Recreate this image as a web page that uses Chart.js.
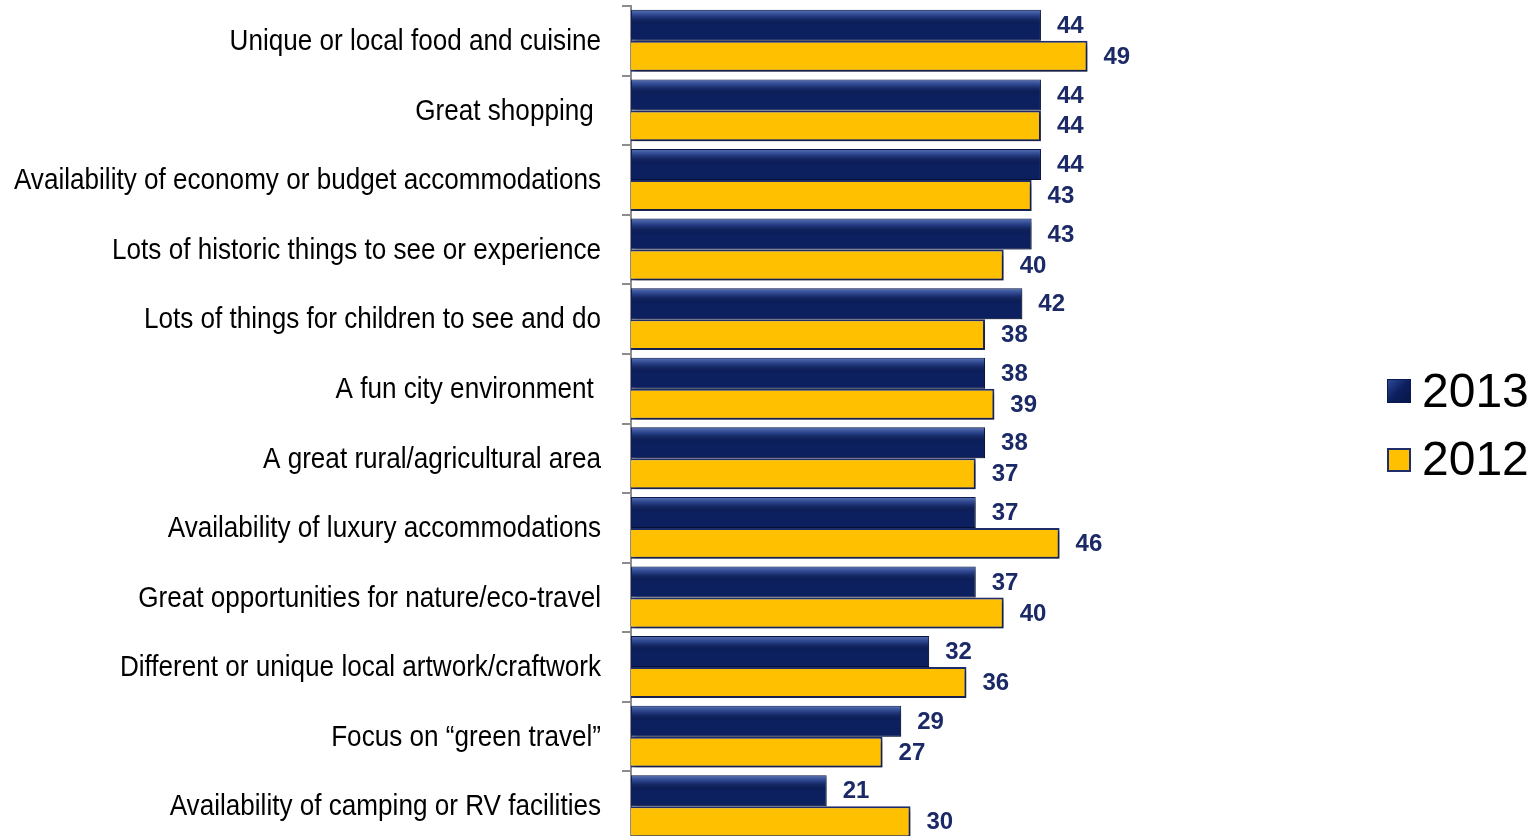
<!DOCTYPE html>
<html>
<head>
<meta charset="utf-8">
<script src="https://cdn.jsdelivr.net/npm/chart.js@4.4.0/dist/chart.umd.min.js"></script>
<style>
  html, body { margin: 0; padding: 0; background: #fff; overflow: hidden; }
  #wrap { position: relative; width: 1535px; height: 842px; }
  .lg-box { position: absolute; width: 22px; height: 22px; }
  .lg-txt { position: absolute; font: 48px "Liberation Sans", Arial, sans-serif; line-height: 48px; color: #000; }
</style>
</head>
<body>
<div id="wrap">
  <canvas id="myChart"></canvas>
  <div class="lg-box" style="left:1387px;top:379px;background:linear-gradient(135deg,#2c4a98 0%,#0c1f5e 50%,#081648 100%);border:1px solid #0a1a50;"></div>
  <div class="lg-txt" style="left:1422px;top:367px;">2013</div>
  <div class="lg-box" style="left:1387px;top:448px;background:#ffc000;border:2px solid #1f2d6b;width:20px;height:20px;"></div>
  <div class="lg-txt" style="left:1422px;top:435px;">2012</div>
</div>
<script>
var categories = [
    "Unique or local food and cuisine",
    "Great shopping ",
    "Availability of economy or budget accommodations",
    "Lots of historic things to see or experience",
    "Lots of things for children to see and do",
    "A fun city environment ",
    "A great rural/agricultural area",
    "Availability of luxury accommodations",
    "Great opportunities for nature/eco-travel",
    "Different or unique local artwork/craftwork",
    "Focus on \u201cgreen travel\u201d",
    "Availability of camping or RV facilities"
];
var values2013 = [44, 44, 44, 43, 42, 38, 38, 37, 37, 32, 29, 21];
var values2012 = [49, 44, 43, 40, 38, 39, 37, 46, 40, 36, 27, 30];
var seriesNames = ["2013", "2012"];

var navy = "#0c1f5e";
var gold = "#ffc000";
var labelColor = "#1b2a66";

// shadow under bars + glossy top on the navy bars + value labels
var barDeco = {
    id: "barDeco",
    beforeDatasetsDraw: function (chart) {
        var ctx = chart.ctx;
        ctx.save();
        ctx.shadowColor = "rgba(0,0,0,0.35)";
        ctx.shadowOffsetX = 3;
        ctx.shadowOffsetY = 3;
        ctx.shadowBlur = 4;
    },
    afterDatasetsDraw: function (chart) {
        var ctx = chart.ctx;
        ctx.restore();
        ctx.save();
        var meta0 = chart.getDatasetMeta(0);
        meta0.data.forEach(function (bar) {
            var p = bar.getProps(["x", "y", "base", "height"], true);
            var top = p.y - p.height / 2;
            var g = ctx.createLinearGradient(0, top, 0, top + p.height);
            g.addColorStop(0, "rgba(120,150,220,0.75)");
            g.addColorStop(0.2, "rgba(70,100,180,0.45)");
            g.addColorStop(0.5, "rgba(0,0,0,0)");
            g.addColorStop(1, "rgba(0,0,0,0)");
            ctx.fillStyle = g;
            ctx.fillRect(p.base + 1, top + 1, p.x - p.base - 2, p.height - 2);
        });
        ctx.font = "bold 24px 'Liberation Sans', Arial, sans-serif";
        ctx.fillStyle = labelColor;
        ctx.textAlign = "left";
        ctx.textBaseline = "middle";
        chart.data.datasets.forEach(function (ds, i) {
            chart.getDatasetMeta(i).data.forEach(function (bar, j) {
                var p = bar.getProps(["x", "y"], true);
                ctx.fillText(String(ds.data[j]), p.x + 16, p.y + 1);
            });
        });
        ctx.restore();
    }
};

// category names in a narrow face (Arial squeezed like Arial Narrow)
var narrowLabels = {
    id: "narrowLabels",
    afterDraw: function (chart) {
        var ctx = chart.ctx;
        var yScale = chart.scales.y;
        ctx.save();
        ctx.font = "30px 'Liberation Sans', Arial, sans-serif";
        ctx.fillStyle = "#000";
        ctx.textAlign = "right";
        ctx.textBaseline = "middle";
        chart.data.labels.forEach(function (lbl, i) {
            var y = yScale.getPixelForTick(i);
            ctx.save();
            ctx.translate(yScale.right - 30, y + 1);
            ctx.scale(0.87, 1);
            ctx.fillText(lbl, 0, 0);
            ctx.restore();
        });
        ctx.restore();
    }
};

var myChart = new Chart(document.getElementById("myChart"), {
    type: "bar",
    data: {
        labels: categories,
        datasets: [
            {
                label: seriesNames[0],
                data: values2013,
                backgroundColor: navy,
                borderColor: "#081648",
                borderWidth: 1
            },
            {
                label: seriesNames[1],
                data: values2012,
                backgroundColor: gold,
                borderColor: "#1f2d6b",
                borderWidth: 2
            }
        ]
    },
    options: {
        indexAxis: "y",
        responsive: true,
        maintainAspectRatio: false,
        animation: false,
        layout: { padding: { top: 6, bottom: 1, left: 0, right: 345 } },
        categoryPercentage: 0.89,
        barPercentage: 1.0,
        plugins: {
            legend: { display: false },
            tooltip: { enabled: false }
        },
        scales: {
            x: {
                display: false,
                min: 0,
                max: 60
            },
            y: {
                afterFit: function (scale) {
                    scale.width = 631;
                    scale.paddingTop = 0;
                    scale.paddingBottom = 0;
                },
                grid: {
                    offset: true,
                    drawOnChartArea: false,
                    drawTicks: true,
                    tickLength: 9,
                    color: "#8c8c8c",
                    lineWidth: 2
                },
                border: { display: true, color: "#8c8c8c", width: 2 },
                ticks: {
                    display: false
                }
            }
        }
    },
    plugins: [barDeco, narrowLabels]
});
</script>
</body>
</html>
